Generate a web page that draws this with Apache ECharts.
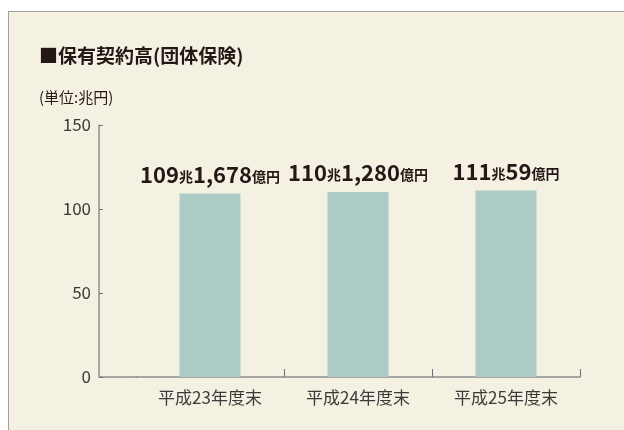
<!DOCTYPE html>
<html>
<head>
<meta charset="utf-8">
<script src="https://cdn.jsdelivr.net/npm/echarts@6/dist/echarts.min.js"></script>
<style>
html,body{margin:0;padding:0;background:#fff;}
#panel{position:absolute;left:8px;top:11px;width:640px;height:440px;background:#f4f1e3;border-top:1px solid #a0a0a0;border-left:1px solid #a0a0a0;}
#chart{position:absolute;left:0;top:0;width:624px;height:430px;}
</style>
</head>
<body>
<div id="panel"></div>
<div id="chart"></div>
<script>
const titleText = '■保有契約高(団体保険)';
const unitText = '(単位:兆円)';
const categories = ['平成23年度末', '平成24年度末', '平成25年度末'];
const values = [109.1678, 110.128, 111.0059]; // 兆円
const yTicks = [0, 50, 100, 150];

function fmtLabel(v) {
  const cho = Math.floor(v);
  const oku = Math.round((v - cho) * 10000);
  return '{a|' + cho + '}{b|兆}{a|' + oku.toLocaleString('en-US') + '}{b|億円}';
}

const font = '"Noto Sans CJK JP", "Noto Sans", sans-serif';
const chart = echarts.init(document.getElementById('chart'), null, {renderer: 'canvas'});
chart.setOption({
  backgroundColor: 'transparent',
  textStyle: {fontFamily: font},
  animation: false,
  title: [
    {text: titleText, left: 34, top: 41, textStyle: {fontFamily: font, fontSize: 19, fontWeight: 'bold', color: '#231815'}},
    {text: unitText, left: 34, top: 85, textStyle: {fontFamily: font, fontSize: 15, fontWeight: 'normal', color: '#231815'}}
  ],
  grid: {left: 136, right: 44, top: 125, bottom: 53, containLabel: false},
  xAxis: {
    type: 'category',
    data: categories,
    axisLine: {lineStyle: {color: '#8c8c8c', width: 1.5}},
    axisTick: {show: true, inside: true, length: 8, lineStyle: {color: '#707070', width: 1}, interval: function (i) { return i > 0; }},
    axisLabel: {fontSize: 17, color: '#3e3a39', margin: 12, fontFamily: font}
  },
  yAxis: {
    type: 'value',
    min: 0, max: 150, interval: 50,
    offset: 37,
    axisLine: {show: true, lineStyle: {color: '#8c8c8c', width: 1.5}},
    axisTick: {show: true, inside: true, length: 4, lineStyle: {color: '#707070', width: 1}},
    splitLine: {show: false},
    axisLabel: {fontSize: 17, color: '#3e3a39', margin: 8, fontFamily: font,
      formatter: v => yTicks.includes(v) ? String(v) : ''}
  },
  series: [{
    type: 'bar',
    data: values,
    barWidth: 61,
    itemStyle: {color: '#adcbc6'},
    label: {
      show: true,
      position: 'top',
      distance: 8,
      formatter: p => fmtLabel(p.value),
      rich: {
        a: {fontSize: 22, fontWeight: 'bold', color: '#231815', fontFamily: font},
        b: {fontSize: 14, fontWeight: 'bold', color: '#231815', fontFamily: font, padding: [4, 0, 0, 0]}
      }
    }
  }],
  graphic: [{
    type: 'line',
    shape: {x1: 99, y1: 377, x2: 137, y2: 377},
    style: {stroke: '#8c8c8c', lineWidth: 1.5}
  }]
});
</script>
</body>
</html>
